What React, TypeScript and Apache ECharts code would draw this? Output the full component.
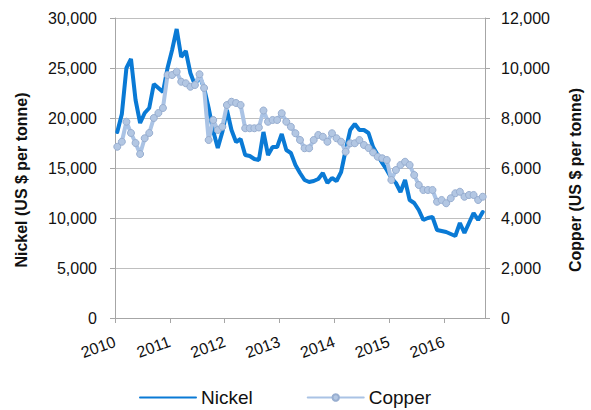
import React, { useEffect, useRef } from 'react';
import * as echarts from 'echarts';

// Monthly averages, Jan 2010 .. Sep 2016 (US $ per tonne)
const yearLabels = ['2010', '2011', '2012', '2013', '2014', '2015', '2016'];

const nickel = [
  // 2010
  18600, 20400, 25000, 25900, 21800, 19500, 20500, 21000, 23400, 23000, 22600, 25000,
  // 2011
  26800, 28900, 26100, 26700, 24500, 23300, 24200, 23000, 21000, 18700, 17000, 18600,
  // 2012
  20800, 18800, 17600, 17900, 16300, 16200, 15900, 15800, 18600, 16300, 17100, 17100,
  // 2013
  18400, 16800, 16500, 15300, 14500, 13800, 13600, 13700, 13900, 14500, 13500, 14000,
  // 2014
  13700, 14600, 16800, 18800, 19400, 18800, 18800, 18500, 17100, 16300, 15500, 14800,
  // 2015
  14000, 13500, 12600, 13800, 11800, 11500, 10800, 9800, 10000, 10100, 8800, 8700,
  // 2016
  8600, 8400, 8200, 9500, 8500, 9500, 10500, 9800, 10600,
];

const copper = [
  // 2010
  6850, 7050, 7850, 7400, 7000, 6560, 7190, 7400, 8000, 8200, 8400, 9720,
  // 2011
  9720, 9850, 9450, 9390, 9250, 9320, 9750, 9200, 7120, 7920, 7520, 7650,
  // 2012
  8520, 8650, 8600, 8520, 7590, 7590, 7590, 7620, 8300, 7850, 7920, 7920,
  // 2013
  8190, 7850, 7650, 7390, 7120, 6790, 6790, 7120, 7320, 7250, 7050, 7390,
  // 2014
  7190, 7050, 6650, 6990, 6990, 7120, 6920, 6800, 6620, 6450, 6390, 6320,
  // 2015
  5520, 5920, 6120, 6250, 6120, 5720, 5320, 5120, 5120, 5120, 4650, 4720,
  // 2016
  4590, 4790, 4990, 5050, 4850, 4920, 4920, 4720, 4850,
];

const monthCount = 81; // axis runs Jan 2010 .. end Sep 2016

export default function App() {
  const ref = useRef<HTMLDivElement>(null);

  useEffect(() => {
    document.body.style.margin = '0';
    if (!ref.current) return;
    const chart = echarts.init(ref.current, undefined, { renderer: 'svg' });
    const font = 'Liberation Sans, Arial, sans-serif';
    // points plotted at mid-month on a month-index scale
    const toPoints = (arr: number[]) => arr.map((v, i) => [i + 0.5, v]);
    const option = {
      animation: false,
      textStyle: { fontFamily: font },
      grid: { left: 115, right: 99, top: 18, bottom: 92, containLabel: false },
      xAxis: {
        type: 'value',
        min: 0,
        max: monthCount,
        interval: 12,
        axisLine: { show: true, onZero: false, lineStyle: { color: '#A6A6A6', width: 1 } },
        axisTick: { show: true, length: 5, lineStyle: { color: '#A6A6A6' } },
        splitLine: { show: false },
        axisLabel: {
          rotate: 20,
          margin: 23,
          fontSize: 16,
          color: '#111',
          fontFamily: font,
          showMaxLabel: false,
          formatter: (v: number) => (v % 12 === 0 ? yearLabels[v / 12] ?? '' : ''),
        },
      },
      yAxis: [
        {
          type: 'value',
          position: 'left',
          min: 0,
          max: 30000,
          interval: 5000,
          name: 'Nickel (US $ per tonne)',
          nameLocation: 'middle',
          nameGap: 86,
          nameTextStyle: { fontSize: 16, fontWeight: 'bold', color: '#111', fontFamily: font, padding: [0, 24, 0, 0] },
          axisLine: { show: true, lineStyle: { color: '#A6A6A6' } },
          axisTick: { show: true, length: 5, lineStyle: { color: '#A6A6A6' } },
          axisLabel: {
            fontSize: 16,
            color: '#111',
            margin: 18,
            fontFamily: font,
            formatter: (v: number) => v.toLocaleString('en-US'),
          },
          splitLine: { show: true, lineStyle: { color: '#BFBFBF', width: 1 } },
        },
        {
          type: 'value',
          position: 'right',
          min: 0,
          max: 12000,
          interval: 2000,
          name: 'Copper (US $ per tonne)',
          nameLocation: 'middle',
          nameGap: 82,
          nameTextStyle: { fontSize: 16, fontWeight: 'bold', color: '#111', fontFamily: font, padding: [0, 24, 0, 0] },
          axisLine: { show: true, lineStyle: { color: '#A6A6A6' } },
          axisTick: { show: true, length: 5, lineStyle: { color: '#A6A6A6' } },
          axisLabel: {
            fontSize: 16,
            color: '#111',
            margin: 16,
            fontFamily: font,
            formatter: (v: number) => v.toLocaleString('en-US'),
          },
          splitLine: { show: false },
        },
      ],
      legend: {
        left: 139,
        top: 388,
        padding: 0,
        itemWidth: 56,
        itemHeight: 8,
        itemGap: 54,
        textStyle: { fontSize: 19, color: '#111', fontFamily: font },
        data: [
          { name: 'Nickel', itemStyle: { opacity: 0 } },
          { name: 'Copper' },
        ],
      },
      series: [
        {
          name: 'Nickel',
          type: 'line',
          yAxisIndex: 0,
          data: toPoints(nickel),
          symbol: 'none',
          lineStyle: { width: 4, color: '#0A7AD5', cap: 'round' },
          itemStyle: { color: '#0A7AD5' },
          z: 2,
        },
        {
          name: 'Copper',
          type: 'line',
          yAxisIndex: 1,
          data: toPoints(copper),
          symbol: 'circle',
          symbolSize: 7,
          lineStyle: { width: 4, color: '#AAC3E5', cap: 'round' },
          itemStyle: { color: '#B3C7E3', borderColor: '#98AED0', borderWidth: 1 },
          z: 3,
        },
      ],
    };
    chart.setOption(option as any);
    return () => chart.dispose();
  }, []);

  return <div ref={ref} style={{ width: 591, height: 410 }} />;
}
